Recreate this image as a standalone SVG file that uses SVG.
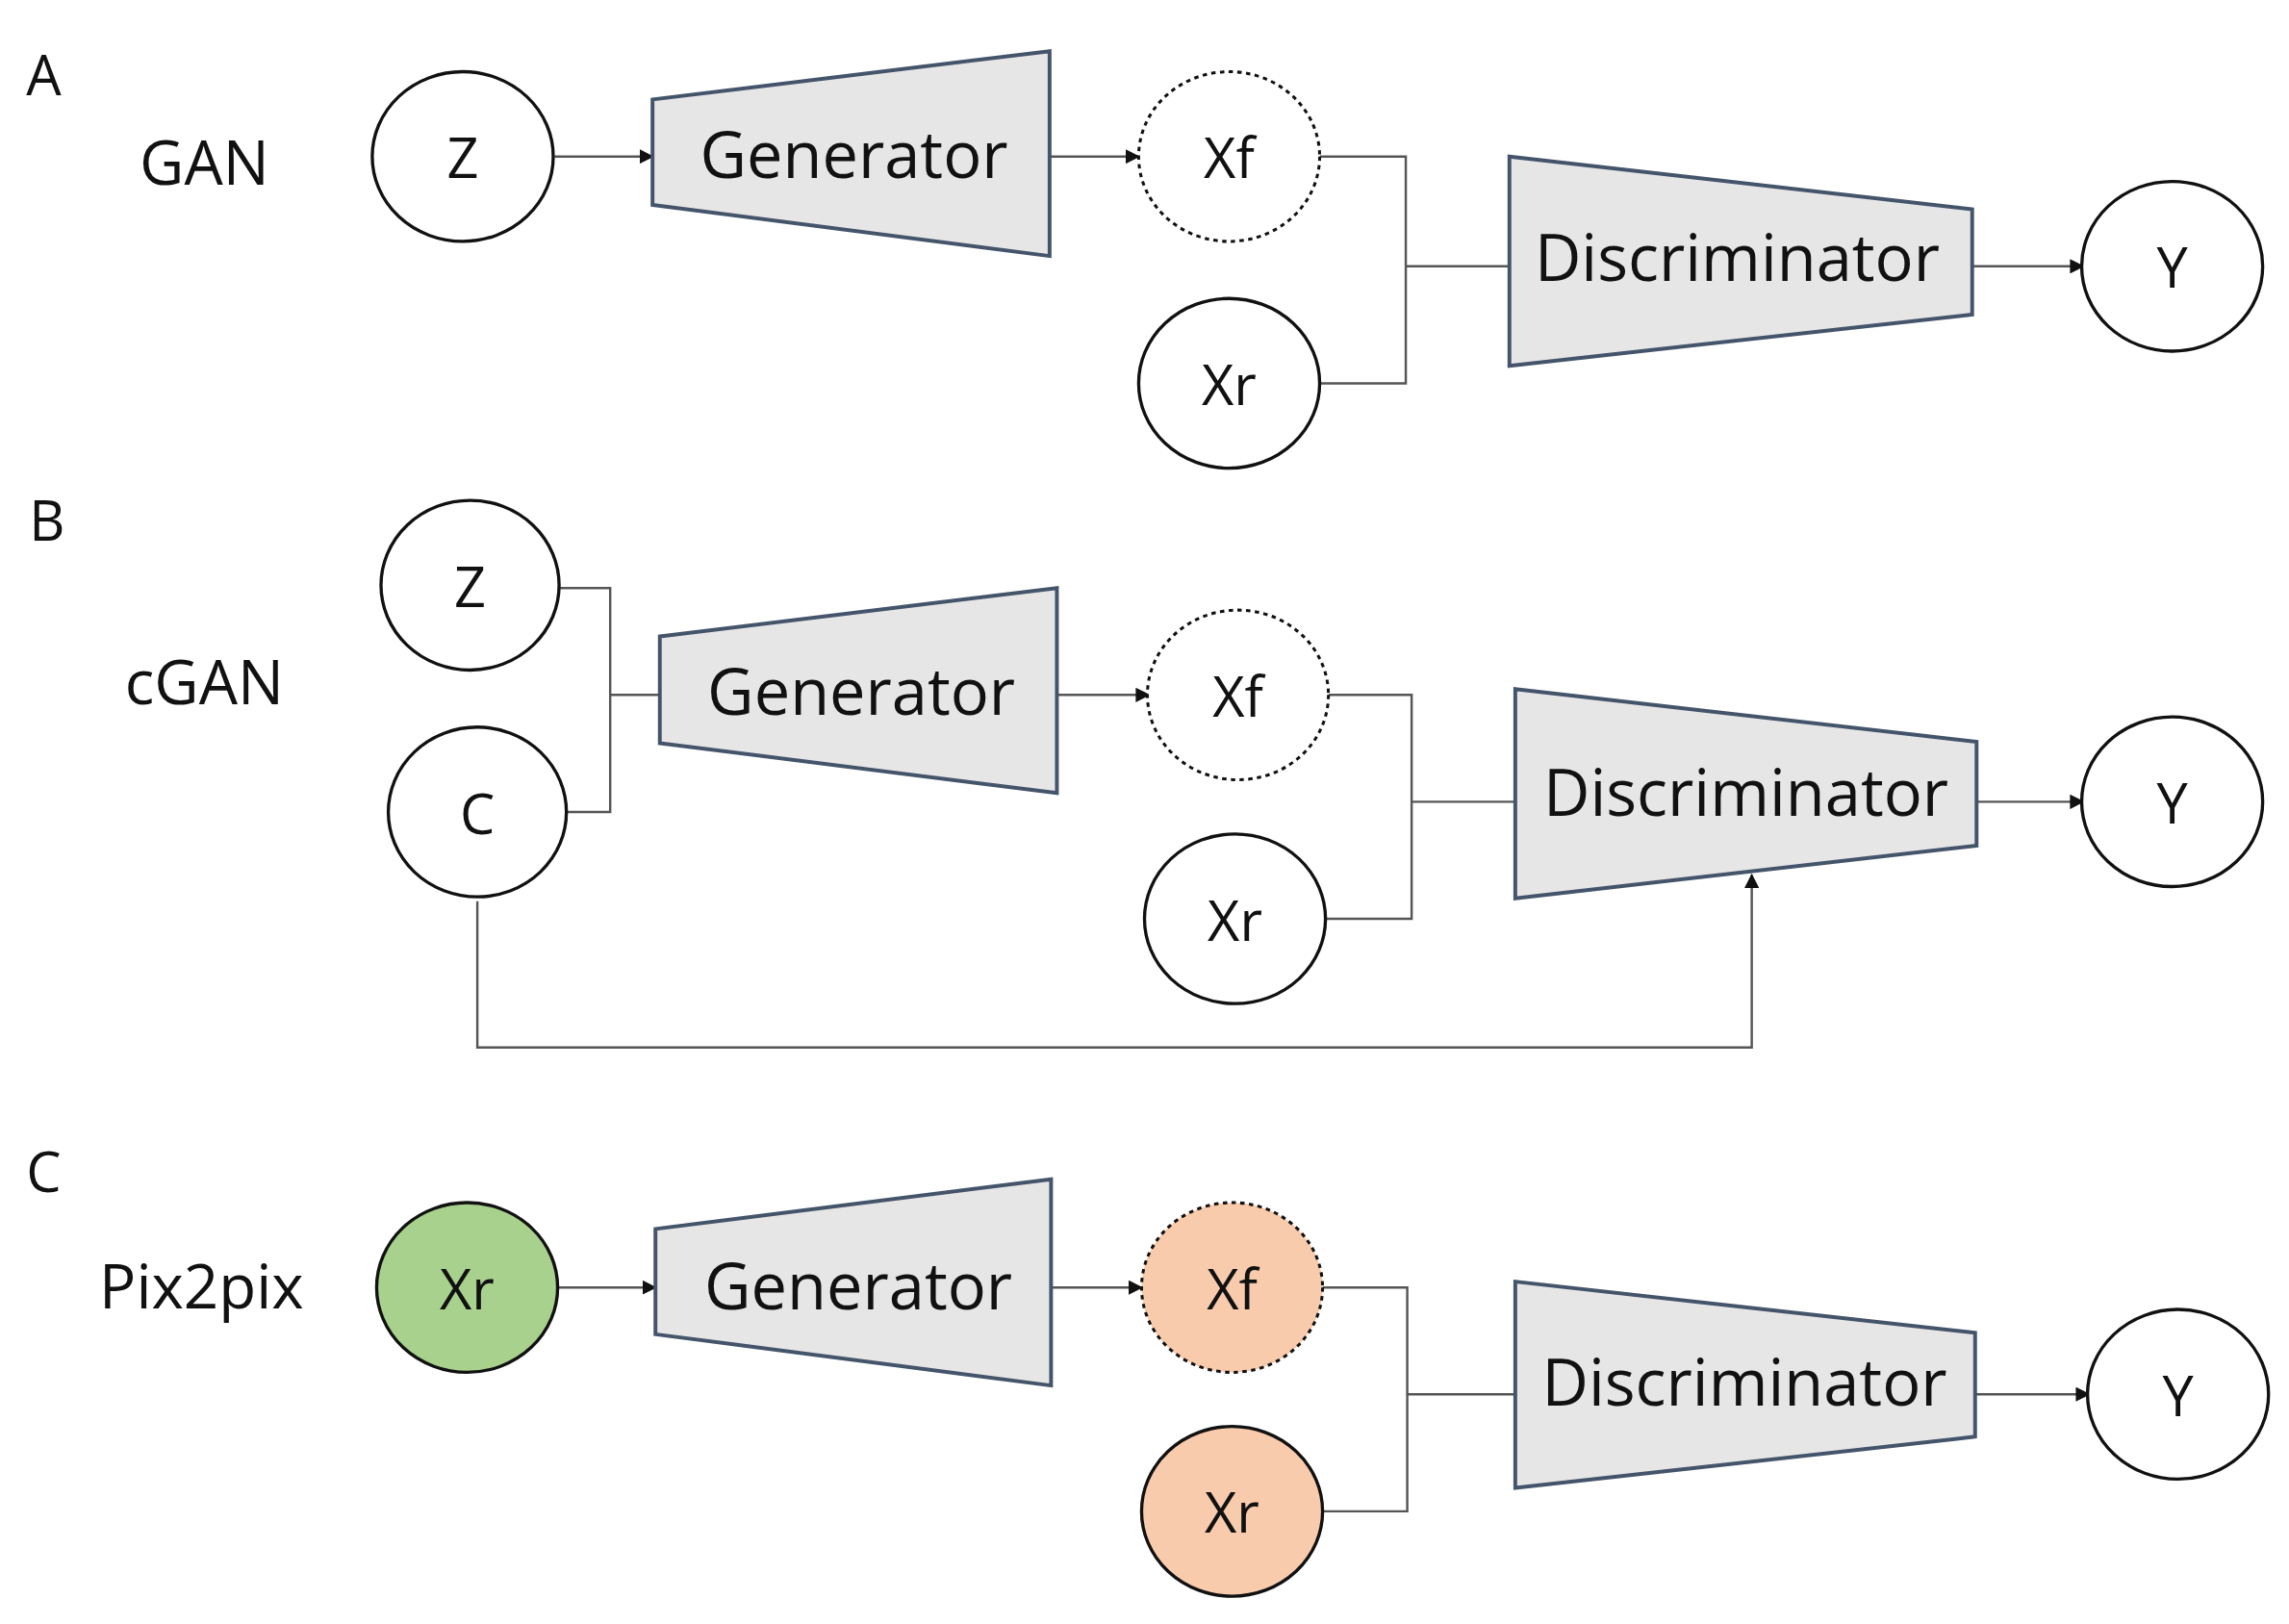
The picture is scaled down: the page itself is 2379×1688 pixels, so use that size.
<svg xmlns="http://www.w3.org/2000/svg" width="2379" height="1688" viewBox="0 0 2379 1688">
<style>
text{font-family:"Open Sans","Noto Sans",sans-serif;fill:#111;text-anchor:middle;dominant-baseline:central}
.c{fill:#fff;stroke:#111;stroke-width:2.2}
.d{fill:#fff;stroke:#111;stroke-width:2;stroke-dasharray:3 3}
.t{fill:#e7e6e6;stroke:#44546a;stroke-width:2.6}
.l{fill:none;stroke:#555;stroke-width:1.6}
.big{font-size:44px}
.mid{font-size:38px}
.nm{font-size:42px}
.lab{font-size:38px;text-anchor:start}
</style>
<defs><marker id="a" markerWidth="10" markerHeight="10" refX="9" refY="5" orient="auto" markerUnits="userSpaceOnUse"><path d="M0,0L10,5L0,10z" fill="#111"/></marker></defs>
<rect width="2379" height="1688" fill="#fff"/>
<g transform="scale(1.5172 1.5207)">
<g id="labels">
<text class="lab" x="18" y="50">A</text><text class="nm" x="140" y="110">GAN</text>
<text class="lab" x="20" y="355">B</text><text class="nm" x="140" y="465">cGAN</text>
<text class="lab" x="18" y="800">C</text><text class="nm" x="138" y="878">Pix2pix</text>
</g>
<g id="connectors">
<path class="l" d="M380,107H447" marker-end="url(#a)"/>
<path class="l" d="M719,107H780" marker-end="url(#a)"/>
<path class="l" d="M904,107H963V262H904M963,182H1034"/>
<path class="l" d="M1351,182H1427" marker-end="url(#a)"/>
<path class="l" d="M383,402H418V555H388M418,475H452"/>
<path class="l" d="M724,475H787" marker-end="url(#a)"/>
<path class="l" d="M910,475H967V628H908M967,548H1038"/>
<path class="l" d="M1354,548H1427" marker-end="url(#a)"/>
<path class="l" d="M327,616V716H1200V598" marker-end="url(#a)"/>
<path class="l" d="M382,880H449" marker-end="url(#a)"/>
<path class="l" d="M720,880H782" marker-end="url(#a)"/>
<path class="l" d="M906,880H964V1033H906M964,953H1038"/>
<path class="l" d="M1353,953H1431" marker-end="url(#a)"/>
</g>
<g id="A-Z"><ellipse class="c" cx="317" cy="107" rx="62" ry="58"/><text class="mid" x="317" y="107">Z</text></g>
<g id="A-gen"><path class="t" d="M447,68L719,35V175L447,140Z"/><text class="big" x="585" y="105">Generator</text></g>
<g id="A-xf"><ellipse class="d" cx="842" cy="107" rx="62" ry="58"/><text class="mid" x="842" y="107">Xf</text></g>
<g id="A-xr"><ellipse class="c" cx="842" cy="262" rx="62" ry="58"/><text class="mid" x="842" y="262">Xr</text></g>
<g id="A-disc"><path class="t" d="M1034,107L1351,143V215L1034,250Z"/><text class="big" x="1190" y="175">Discriminator</text></g>
<g id="A-y"><ellipse class="c" cx="1488" cy="182" rx="62" ry="58"/><text class="mid" x="1488" y="182">Y</text></g>
<g id="B-Z"><ellipse class="c" cx="322" cy="400" rx="61" ry="58"/><text class="mid" x="322" y="400">Z</text></g>
<g id="B-C"><ellipse class="c" cx="327" cy="555" rx="61" ry="58"/><text class="mid" x="327" y="555">C</text></g>
<g id="B-gen"><path class="t" d="M452,435L724,402V542L452,508Z"/><text class="big" x="590" y="472">Generator</text></g>
<g id="B-xf"><ellipse class="d" cx="848" cy="475" rx="62" ry="58"/><text class="mid" x="848" y="475">Xf</text></g>
<g id="B-xr"><ellipse class="c" cx="846" cy="628" rx="62" ry="58"/><text class="mid" x="846" y="628">Xr</text></g>
<g id="B-disc"><path class="t" d="M1038,471L1354,507V578L1038,614Z"/><text class="big" x="1196" y="541">Discriminator</text></g>
<g id="B-y"><ellipse class="c" cx="1488" cy="548" rx="62" ry="58"/><text class="mid" x="1488" y="548">Y</text></g>
<g id="C-xr"><ellipse class="c" cx="320" cy="880" rx="62" ry="58" style="fill:#a9d18e"/><text class="mid" x="320" y="880">Xr</text></g>
<g id="C-gen"><path class="t" d="M449,840L720,806V947L449,912Z"/><text class="big" x="588" y="878">Generator</text></g>
<g id="C-xf"><ellipse class="d" cx="844" cy="880" rx="62" ry="58" style="fill:#f8cbad"/><text class="mid" x="844" y="880">Xf</text></g>
<g id="C-xr2"><ellipse class="c" cx="844" cy="1033" rx="62" ry="58" style="fill:#f8cbad"/><text class="mid" x="844" y="1033">Xr</text></g>
<g id="C-disc"><path class="t" d="M1038,876L1353,911V982L1038,1017Z"/><text class="big" x="1195" y="944">Discriminator</text></g>
<g id="C-y"><ellipse class="c" cx="1492" cy="953" rx="62" ry="58"/><text class="mid" x="1492" y="953">Y</text></g>
</g>
</svg>
